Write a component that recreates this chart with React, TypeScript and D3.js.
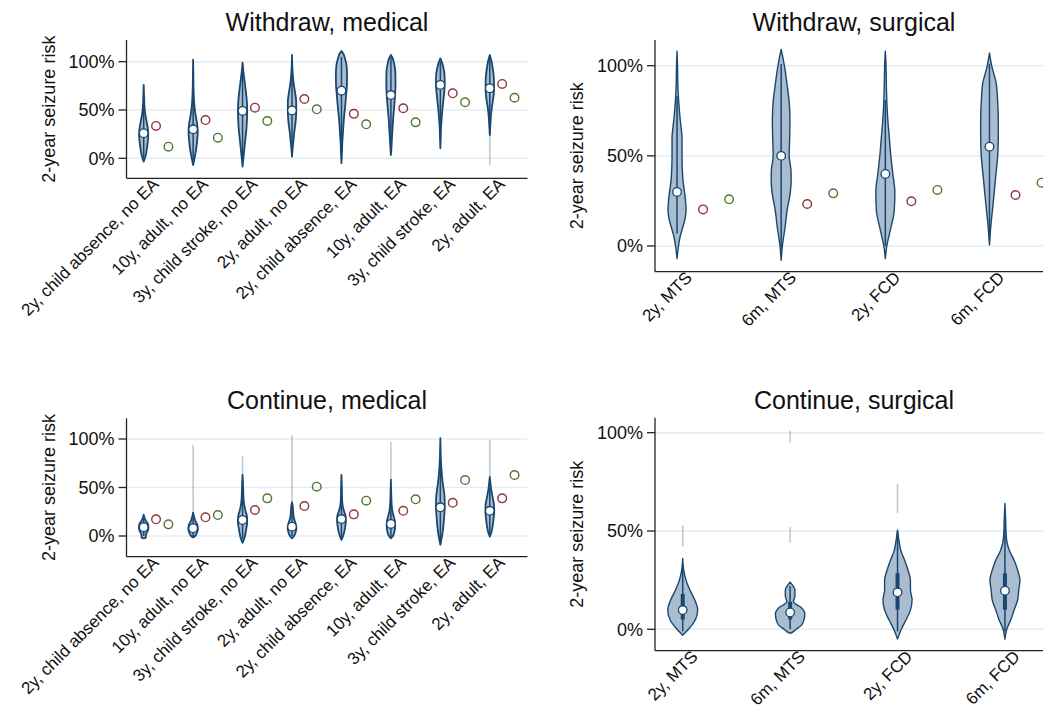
import React from "react";
import * as d3 from "d3";

type Pt = [number, number];

const medicalCategories = [
  "2y, child absence, no EA",
  "10y, adult, no EA",
  "3y, child stroke, no EA",
  "2y, adult, no EA",
  "2y, child absence, EA",
  "10y, adult, EA",
  "3y, child stroke, EA",
  "2y, adult, EA",
];
const surgicalCategories = ["2y, MTS", "6m, MTS", "2y, FCD", "6m, FCD"];
const yTickValues = [0, 50, 100];
const panelTitles = ["Withdraw, medical", "Withdraw, surgical", "Continue, medical", "Continue, surgical"];
const yAxisTitle = "2-year seizure risk";

// ---- Withdraw, medical ----
const wmMedian = [26, 30, 49, 49.5, 70, 65.5, 76, 72.5];
const wmRed = [33.5, 39.6, 52.4, 61.4, 46, 51.8, 67.3, 77];
const wmGreen = [12, 21.3, 38.6, 50.7, 35.2, 37.2, 58, 62.7];
const wmWhisker: Pt[] = [[0, 55], [-2, 70], [-2, 92], [8, 95], [0, 105], [8, 104], [20, 100], [25, 104]];
const wmTails: Pt[][] = [[], [], [], [], [], [], [], [[-7, 24]]];
const wmDensity: Pt[][] = [
  [[-3.5, 0], [2, 0.45], [10, 0.8], [18, 1.05], [25, 1.15], [32, 1.0], [40, 0.65], [47, 0.35], [55, 0.18], [62, 0.12], [70, 0.05], [76, 0]],
  [[-7, 0], [0, 0.35], [8, 0.7], [18, 1.0], [28, 1.15], [36, 1.0], [44, 0.65], [52, 0.38], [60, 0.22], [70, 0.12], [82, 0.07], [92, 0.04], [102, 0]],
  [[-8.7, 0], [0, 0.2], [10, 0.45], [20, 0.7], [30, 0.95], [40, 1.1], [50, 1.15], [60, 1.05], [70, 0.8], [80, 0.5], [90, 0.2], [99, 0]],
  [[1.7, 0], [10, 0.15], [18, 0.35], [28, 0.6], [38, 0.9], [48, 1.05], [58, 1.05], [66, 0.85], [75, 0.5], [85, 0.22], [95, 0.08], [107, 0]],
  [[-5, 0], [5, 0.1], [15, 0.2], [25, 0.35], [35, 0.5], [45, 0.7], [55, 0.95], [65, 1.15], [75, 1.35], [85, 1.4], [95, 1.3], [103, 0.9], [108, 0.5], [111, 0]],
  [[3.4, 0], [10, 0.12], [20, 0.25], [30, 0.4], [40, 0.55], [50, 0.75], [60, 0.95], [70, 1.1], [80, 1.15], [90, 1.1], [98, 0.8], [104, 0.4], [107, 0]],
  [[10.4, 0], [20, 0.08], [30, 0.15], [40, 0.3], [50, 0.5], [60, 0.75], [70, 1.0], [78, 1.1], [86, 1.05], [94, 0.75], [100, 0.35], [103.5, 0]],
  [[24, 0], [35, 0.15], [45, 0.3], [55, 0.6], [63, 0.9], [70, 1.05], [78, 1.05], [86, 0.95], [94, 0.7], [101, 0.4], [107, 0]],
];

// ---- Withdraw, surgical ----
const wsMedian = [30, 50, 40, 55.1];
const wsRed = [20.3, 23.3, 24.8, 28.3];
const wsGreen = [25.9, 29.2, 31.1, 35.1];
const wsWhisker: Pt[] = [[7, 83], [-2, 101], [0, 81], [3, 101]];
const wsTails: Pt[][] = [[], [], [], []];
const wsDensity: Pt[][] = [
  [[-7, 0], [0, 0.15], [5, 0.3], [10, 0.55], [15, 0.8], [20, 0.9], [25, 0.85], [30, 0.75], [35, 0.62], [40, 0.55], [50, 0.5], [60, 0.5], [65, 0.42], [70, 0.32], [80, 0.17], [90, 0.08], [100, 0.05], [108, 0]],
  [[-8, 0], [0, 0.12], [10, 0.38], [20, 0.6], [30, 0.92], [37, 1.0], [42, 0.98], [50, 0.8], [60, 0.85], [70, 0.88], [80, 0.8], [90, 0.58], [100, 0.32], [105, 0.15], [109, 0]],
  [[-7, 0], [0, 0.15], [10, 0.55], [20, 0.9], [30, 0.95], [40, 0.75], [50, 0.55], [60, 0.4], [70, 0.25], [80, 0.15], [90, 0.1], [100, 0.07], [108, 0]],
  [[0.6, 0], [10, 0.12], [20, 0.3], [30, 0.48], [40, 0.65], [50, 0.82], [60, 0.88], [70, 0.88], [80, 0.82], [90, 0.68], [100, 0.22], [107, 0]],
];

// ---- Continue, medical ----
const cmMedian = [9, 8, 16.5, 9.6, 17.5, 12.4, 29.6, 26];
const cmRed = [17.2, 19.3, 26.8, 30.9, 22.3, 26, 34.3, 38.8];
const cmGreen = [12, 21.6, 38.8, 50.8, 36.4, 37.8, 57.7, 62.9];
const cmWhisker: Pt[] = [[0, 18], [0, 20], [-3, 45], [0, 30], [-2, 40], [-2, 40], [-5, 70], [2, 50]];
const cmTails: Pt[][] = [[], [[24, 94]], [[63, 82]], [[35, 104]], [], [[58, 97]], [], [[61, 99]]];
const cmDensity: Pt[][] = [
  [[-2.5, 0], [-2, 0.5], [2, 0.6], [5, 1.0], [9, 1.2], [13, 1.0], [16, 0.5], [19, 0.2], [22, 0]],
  [[-1.5, 0], [0, 0.5], [3, 0.9], [7, 1.2], [11, 1.1], [15, 0.6], [19, 0.3], [22, 0.1], [24, 0]],
  [[-7, 0], [-3, 0.4], [2, 0.7], [8, 0.95], [14, 1.15], [20, 1.1], [25, 0.8], [30, 0.5], [38, 0.25], [48, 0.15], [55, 0.1], [63, 0]],
  [[-2.4, 0], [0, 0.5], [4, 0.9], [8, 1.1], [13, 0.9], [18, 0.5], [24, 0.3], [30, 0.2], [35, 0]],
  [[-4, 0], [0, 0.4], [5, 0.75], [10, 0.95], [15, 1.1], [20, 1.05], [25, 0.7], [30, 0.35], [38, 0.15], [50, 0.1], [63, 0]],
  [[-2.4, 0], [0, 0.5], [5, 0.9], [10, 1.05], [15, 1.0], [20, 0.7], [25, 0.4], [32, 0.2], [42, 0.1], [58, 0]],
  [[-9, 0], [-4, 0.25], [2, 0.5], [10, 0.75], [20, 0.95], [30, 1.1], [40, 1.05], [50, 0.75], [60, 0.45], [70, 0.25], [80, 0.12], [90, 0.06], [101, 0]],
  [[-0.7, 0], [3, 0.35], [10, 0.7], [18, 0.95], [25, 1.1], [32, 1.05], [40, 0.7], [48, 0.35], [55, 0.15], [61, 0]],
];

// ---- Continue, surgical ----
const csMedian = [9.8, 8.6, 18.8, 19.6];
const csWhisker: Pt[] = [[-1, 33], [0, 22], [-1, 50], [-1, 60]];
const csBox: Pt[] = [[5, 18], [5, 14], [10, 28.5], [10, 28.5]];
const csTails: Pt[][] = [[[42, 53]], [[95, 101], [44, 52]], [[59, 74]], []];
const csDensity: Pt[][] = [
  [[-3, 0], [0, 0.38], [5, 0.85], [10, 1.0], [15, 0.8], [20, 0.48], [25, 0.22], [30, 0.07], [36, 0]],
  [[-2, 0], [-1.5, 0.15], [0, 0.4], [2, 0.75], [5, 0.93], [8, 0.98], [11, 0.75], [14, 0.22], [17, 0.32], [20, 0.32], [22, 0.2], [24, 0]],
  [[-5, 0], [0, 0.25], [5, 0.58], [10, 0.87], [15, 0.97], [20, 0.86], [25, 0.86], [30, 0.7], [35, 0.48], [40, 0.22], [45, 0.1], [50.5, 0]],
  [[-5, 0], [0, 0.12], [5, 0.4], [10, 0.62], [15, 0.85], [20, 0.92], [25, 1.0], [30, 0.85], [35, 0.62], [40, 0.3], [45, 0.12], [50, 0.07], [55, 0.05], [64, 0]],
];

const NAVY = "#1a476f";
const FILL = "#a9bcd0";
const RED = "#90353b";
const GREEN = "#55752f";
const GRID = "#e4ecf0";
const FONT = "'Liberation Sans', Arial, sans-serif";

type Layout = {
  left: number; right: number; top: number; bottom: number;
  y0: number; y100: number; xDomain: [number, number]; hw: number; dotR: number; outline: number;
};

type PanelData = {
  title: string;
  cats: string[];
  median: number[];
  red?: number[];
  green?: number[];
  whisker: Pt[];
  box?: Pt[];
  tails: Pt[][];
  density: Pt[][];
};

function Panel({ layout, data }: { layout: Layout; data: PanelData }) {
  const x = d3.scaleLinear().domain(layout.xDomain).range([layout.left, layout.right]);
  const y = d3.scaleLinear().domain([0, 100]).range([layout.y0, layout.y100]);
  const cx = (i: number) => x(4 * i + 1);
  const midX = (layout.left + layout.right) / 2;
  const midY = (layout.top + layout.bottom) / 2;
  return (
    <g>
      <text x={midX} y={layout.top - 9} textAnchor="middle" fontSize={25} fill="#111" fontFamily={FONT}>
        {data.title}
      </text>
      {yTickValues.map((t) => (
        <g key={t}>
          <line x1={layout.left} x2={layout.right} y1={y(t)} y2={y(t)} stroke={GRID} strokeWidth={1.5} />
          <line x1={layout.left - 8} x2={layout.left} y1={y(t)} y2={y(t)} stroke="#222" strokeWidth={1.3} />
          <text x={layout.left - 12} y={y(t)} dy="0.35em" textAnchor="end" fontSize={18} fill="#111" fontFamily={FONT}>
            {t}%
          </text>
        </g>
      ))}
      <text
        transform={`translate(${layout.left - 72},${midY}) rotate(-90)`}
        textAnchor="middle"
        fontSize={18}
        fill="#111"
        fontFamily={FONT}
      >
        {yAxisTitle}
      </text>
      {data.density.map((prof, i) => {
        const c = cx(i);
        const area = d3
          .area<Pt>()
          .y((p) => y(p[0]))
          .x0((p) => c - p[1] * layout.hw)
          .x1((p) => c + p[1] * layout.hw)
          .curve(d3.curveMonotoneY);
        const w = data.whisker[i];
        const b = data.box ? data.box[i] : null;
        return (
          <g key={i}>
            {data.tails[i].map((t, k) => (
              <line key={k} x1={c} x2={c} y1={y(t[0])} y2={y(t[1])} stroke={NAVY} strokeOpacity={0.3} strokeWidth={1.5} />
            ))}
            <path d={area(prof) || ""} fill={FILL} stroke={NAVY} strokeWidth={layout.outline} strokeLinejoin="round" />
            <line x1={c} x2={c} y1={y(w[0])} y2={y(w[1])} stroke={NAVY} strokeWidth={1.5} />
            {b && <line x1={c} x2={c} y1={y(b[0])} y2={y(b[1])} stroke={NAVY} strokeWidth={4} />}
            <circle cx={c} cy={y(data.median[i])} r={layout.dotR} fill="#fff" stroke={NAVY} strokeWidth={1.3} />
          </g>
        );
      })}
      {data.red &&
        data.red.map((v, i) => (
          <circle key={"r" + i} cx={x(4 * i + 2)} cy={y(v)} r={layout.dotR} fill="none" stroke={RED} strokeWidth={1.4} />
        ))}
      {data.green &&
        data.green.map((v, i) => (
          <circle key={"g" + i} cx={x(4 * i + 3)} cy={y(v)} r={layout.dotR} fill="none" stroke={GREEN} strokeWidth={1.4} />
        ))}
      <line x1={layout.left} x2={layout.left} y1={layout.top} y2={layout.bottom} stroke="#222" strokeWidth={1.3} />
      <line x1={layout.left} x2={layout.right} y1={layout.bottom} y2={layout.bottom} stroke="#222" strokeWidth={1.3} />
      {data.cats.map((c, i) => (
        <text
          key={c}
          transform={`translate(${cx(i) + 16},${layout.bottom + 7}) rotate(-45)`}
          textAnchor="end"
          fontSize={17}
          fill="#111"
          fontFamily={FONT}
        >
          {c}
        </text>
      ))}
    </g>
  );
}

const layoutTL: Layout = { left: 126.5, right: 527.5, top: 40, bottom: 178.3, y0: 158.3, y100: 61.7, xDomain: [-0.39, 32.05], hw: 4, dotR: 4.3, outline: 1.8 };
const layoutBL: Layout = { left: 126.5, right: 527.5, top: 418.3, bottom: 556.7, y0: 536, y100: 439, xDomain: [-0.39, 32.05], hw: 4, dotR: 4.3, outline: 1.8 };
const layoutTR: Layout = { left: 655, right: 1053, top: 40, bottom: 271.7, y0: 246, y100: 65.7, xDomain: [0.154, 15.44], hw: 10, dotR: 4.3, outline: 1.4 };
const layoutBR: Layout = { left: 655, right: 1053, top: 417.7, bottom: 650.7, y0: 629.3, y100: 432.7, xDomain: [-0.032, 14.79], hw: 15, dotR: 4.3, outline: 1.4 };

export default function App() {
  const panels: [Layout, PanelData][] = [
    [layoutTL, { title: panelTitles[0], cats: medicalCategories, median: wmMedian, red: wmRed, green: wmGreen, whisker: wmWhisker, tails: wmTails, density: wmDensity }],
    [layoutTR, { title: panelTitles[1], cats: surgicalCategories, median: wsMedian, red: wsRed, green: wsGreen, whisker: wsWhisker, tails: wsTails, density: wsDensity }],
    [layoutBL, { title: panelTitles[2], cats: medicalCategories, median: cmMedian, red: cmRed, green: cmGreen, whisker: cmWhisker, tails: cmTails, density: cmDensity }],
    [layoutBR, { title: panelTitles[3], cats: surgicalCategories, median: csMedian, whisker: csWhisker, box: csBox, tails: csTails, density: csDensity }],
  ];
  return (
    <svg width={1043} height={710} style={{ position: "absolute", left: 0, top: 0, background: "#fff" }}>
      <rect width={1043} height={710} fill="#fff" />
      {panels.map(([l, d], i) => (
        <Panel key={i} layout={l} data={d} />
      ))}
    </svg>
  );
}
